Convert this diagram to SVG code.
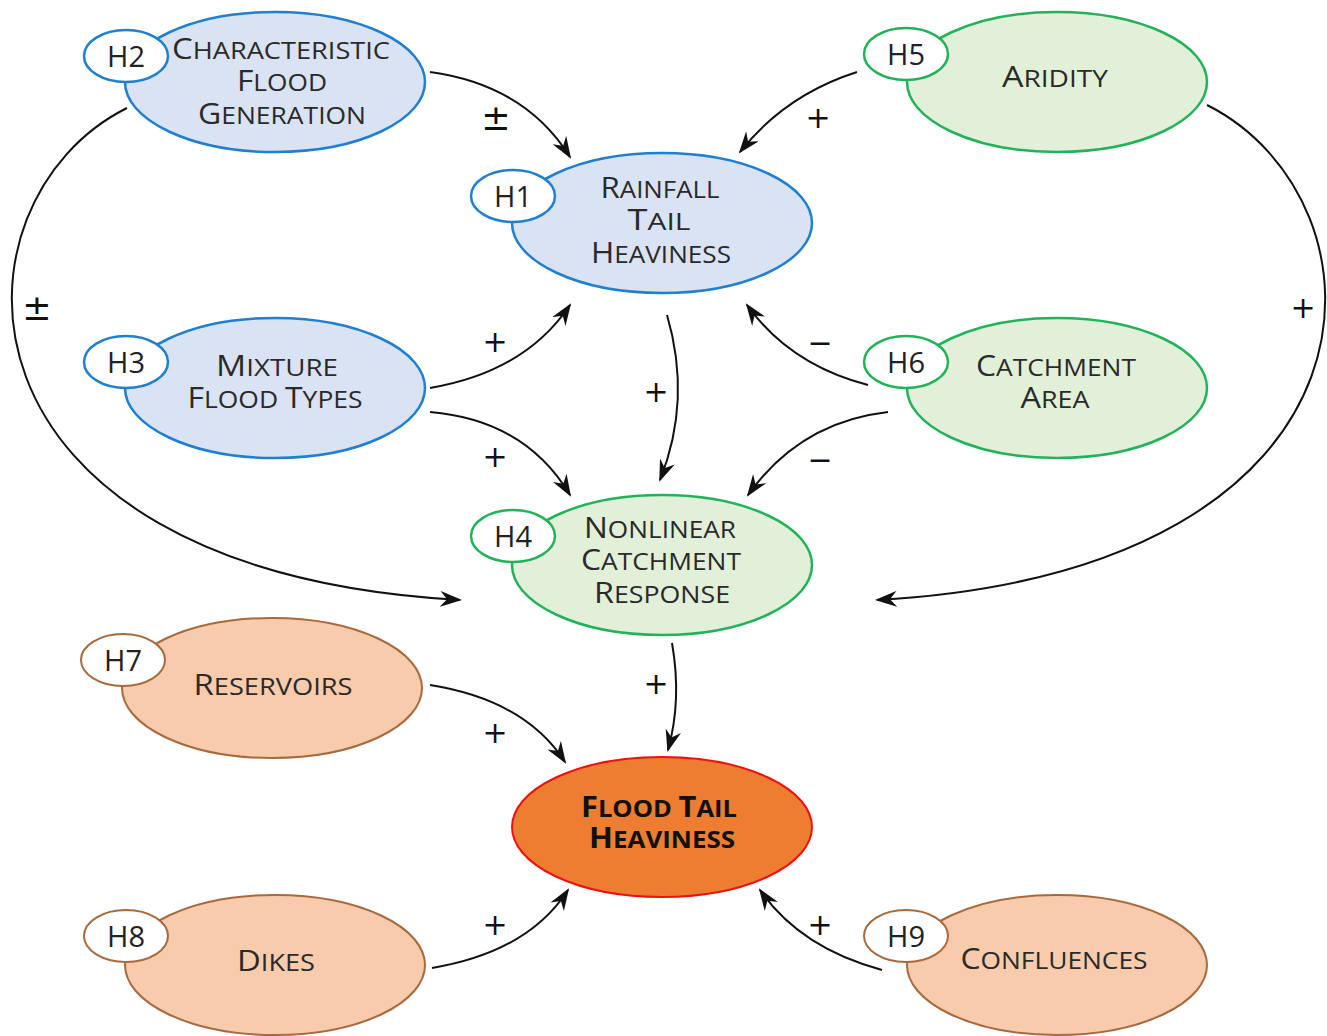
<svg xmlns="http://www.w3.org/2000/svg" width="1327" height="1036" viewBox="0 0 1327 1036">
<defs>
<marker id="arr" viewBox="0 0 22 16" refX="20" refY="8" markerWidth="22" markerHeight="16" markerUnits="userSpaceOnUse" orient="auto">
<path d="M0,0 L22,8 L0,16 L7,8 z" fill="#111"/>
</marker>
<style>
.blue{fill:#DAE3F3;stroke:#1F7FD0;stroke-width:2.5}
.green{fill:#E2F0D9;stroke:#22B35A;stroke-width:2.5}
.tan{fill:#F8CBAD;stroke:#A86A3C;stroke-width:2}
.bb{fill:#fff;stroke:#1F7FD0;stroke-width:2.5}
.bg{fill:#fff;stroke:#22B35A;stroke-width:2.5}
.bt{fill:#fff;stroke:#A86A3C;stroke-width:2}
.lbl{font-family:"Open Sans","Liberation Sans",sans-serif;font-size:24px;fill:#2a2a2a;text-anchor:middle}
.L{font-size:29px}
.bold{font-weight:bold;fill:#111}
.hid{font-family:"Open Sans","Liberation Sans",sans-serif;font-size:29px;fill:#222;text-anchor:middle}
.sign{font-family:"DejaVu Sans","Liberation Sans",sans-serif;font-size:30px;fill:#111;text-anchor:middle}
.pm{font-size:35px}
.c{fill:none;stroke:#111;stroke-width:2;marker-end:url(#arr)}
</style>
</defs>
<rect width="1327" height="1036" fill="#fff"/>
<g id="connectors">
<path class="c" d="M430,72 Q525,85 570,157"/>
<path class="c" d="M857,72 Q785,95 740,152"/>
<path class="c" d="M127,108 C-58,200 -68,570 460,600"/>
<path class="c" d="M1207,105 C1396,200 1406,570 877,600"/>
<path class="c" d="M430,388 Q525,372 570,305"/>
<path class="c" d="M430,412 Q525,420 570,495"/>
<path class="c" d="M667,315 Q692,400 660,480"/>
<path class="c" d="M868,385 Q790,365 747,305"/>
<path class="c" d="M888,412 Q800,422 748,495"/>
<path class="c" d="M672,643 Q682,700 668,750"/>
<path class="c" d="M430,685 Q525,700 565,762"/>
<path class="c" d="M432,968 Q528,952 568,890"/>
<path class="c" d="M882,970 Q800,948 760,890"/>
<text class="sign pm" x="496" y="130">±</text>
<text class="sign" x="818" y="128">+</text>
<text class="sign pm" x="37" y="320">±</text>
<text class="sign" x="1303" y="318">+</text>
<text class="sign" x="495" y="352">+</text>
<text class="sign" x="495" y="467">+</text>
<text class="sign" x="656" y="402">+</text>
<text class="sign" x="820" y="353">−</text>
<text class="sign" x="820" y="470">−</text>
<text class="sign" x="656" y="694">+</text>
<text class="sign" x="495" y="743">+</text>
<text class="sign" x="495" y="935">+</text>
<text class="sign" x="820" y="935">+</text>
</g>
<g id="H2">
<ellipse class="blue" cx="275" cy="82" rx="150" ry="70"/>
<ellipse class="bb" cx="126" cy="56" rx="42" ry="26"/>
<text class="hid" x="126" y="67">H2</text>
<text class="lbl" x="281" y="59" textLength="218" lengthAdjust="spacingAndGlyphs"><tspan class="L">C</tspan>HARACTERISTIC</text>
<text class="lbl" x="282" y="91" textLength="90" lengthAdjust="spacingAndGlyphs"><tspan class="L">F</tspan>LOOD</text>
<text class="lbl" x="282" y="124" textLength="168" lengthAdjust="spacingAndGlyphs"><tspan class="L">G</tspan>ENERATION</text>
</g>
<g id="H1">
<ellipse class="blue" cx="662" cy="223" rx="150" ry="70"/>
<ellipse class="bb" cx="513" cy="196" rx="42" ry="26"/>
<text class="hid" x="513" y="207">H1</text>
<text class="lbl" x="660" y="198" textLength="119" lengthAdjust="spacingAndGlyphs"><tspan class="L">R</tspan>AINFALL</text>
<text class="lbl" x="659" y="230" textLength="63" lengthAdjust="spacingAndGlyphs"><tspan class="L">T</tspan>AIL</text>
<text class="lbl" x="661" y="263" textLength="140" lengthAdjust="spacingAndGlyphs"><tspan class="L">H</tspan>EAVINESS</text>
</g>
<g id="H5">
<ellipse class="green" cx="1057" cy="82" rx="150" ry="70"/>
<ellipse class="bg" cx="906" cy="54" rx="42" ry="26"/>
<text class="hid" x="906" y="65">H5</text>
<text class="lbl" x="1055" y="87" textLength="106" lengthAdjust="spacingAndGlyphs"><tspan class="L">A</tspan>RIDITY</text>
</g>
<g id="H3">
<ellipse class="blue" cx="275" cy="388" rx="150" ry="70"/>
<ellipse class="bb" cx="126" cy="362" rx="42" ry="26"/>
<text class="hid" x="126" y="373">H3</text>
<text class="lbl" x="277" y="376" textLength="122" lengthAdjust="spacingAndGlyphs"><tspan class="L">M</tspan>IXTURE</text>
<text class="lbl" x="275" y="408" textLength="175" lengthAdjust="spacingAndGlyphs"><tspan class="L">F</tspan>LOOD <tspan class="L">T</tspan>YPES</text>
</g>
<g id="H6">
<ellipse class="green" cx="1057" cy="388" rx="150" ry="70"/>
<ellipse class="bg" cx="906" cy="362" rx="42" ry="26"/>
<text class="hid" x="906" y="373">H6</text>
<text class="lbl" x="1056" y="376" textLength="160" lengthAdjust="spacingAndGlyphs"><tspan class="L">C</tspan>ATCHMENT</text>
<text class="lbl" x="1055" y="408" textLength="69" lengthAdjust="spacingAndGlyphs"><tspan class="L">A</tspan>REA</text>
</g>
<g id="H4">
<ellipse class="green" cx="662" cy="565" rx="150" ry="70"/>
<ellipse class="bg" cx="513" cy="536" rx="42" ry="26"/>
<text class="hid" x="513" y="547">H4</text>
<text class="lbl" x="660" y="538" textLength="152" lengthAdjust="spacingAndGlyphs"><tspan class="L">N</tspan>ONLINEAR</text>
<text class="lbl" x="661" y="570" textLength="160" lengthAdjust="spacingAndGlyphs"><tspan class="L">C</tspan>ATCHMENT</text>
<text class="lbl" x="662" y="603" textLength="136" lengthAdjust="spacingAndGlyphs"><tspan class="L">R</tspan>ESPONSE</text>
</g>
<g id="H7">
<ellipse class="tan" cx="272" cy="688" rx="150" ry="70"/>
<ellipse class="bt" cx="123" cy="660" rx="42" ry="26"/>
<text class="hid" x="123" y="671">H7</text>
<text class="lbl" x="273" y="695" textLength="159" lengthAdjust="spacingAndGlyphs"><tspan class="L">R</tspan>ESERVOIRS</text>
</g>
<g id="FTH">
<ellipse cx="662" cy="827" rx="150" ry="70" fill="#ED7D31" stroke="#F01010" stroke-width="2"/>
<text class="lbl bold" x="659" y="817" textLength="156" lengthAdjust="spacingAndGlyphs"><tspan class="L">F</tspan>LOOD <tspan class="L">T</tspan>AIL</text>
<text class="lbl bold" x="662" y="848" textLength="146" lengthAdjust="spacingAndGlyphs"><tspan class="L">H</tspan>EAVINESS</text>
</g>
<g id="H8">
<ellipse class="tan" cx="275" cy="965" rx="150" ry="70"/>
<ellipse class="bt" cx="126" cy="936" rx="42" ry="26"/>
<text class="hid" x="126" y="947">H8</text>
<text class="lbl" x="276" y="971" textLength="78" lengthAdjust="spacingAndGlyphs"><tspan class="L">D</tspan>IKES</text>
</g>
<g id="H9">
<ellipse class="tan" cx="1057" cy="965" rx="150" ry="70"/>
<ellipse class="bt" cx="906" cy="936" rx="42" ry="26"/>
<text class="hid" x="906" y="947">H9</text>
<text class="lbl" x="1054" y="969" textLength="187" lengthAdjust="spacingAndGlyphs"><tspan class="L">C</tspan>ONFLUENCES</text>
</g>
</svg>
